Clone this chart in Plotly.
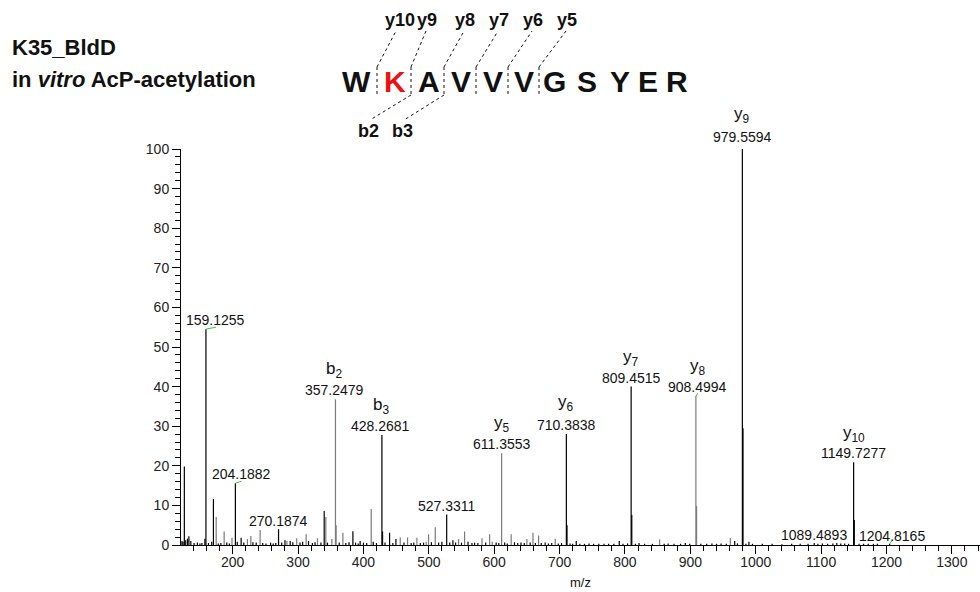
import plotly.graph_objects as go

# ---------------- data ----------------
# main (black) peaks: m/z and relative intensity (%)
black_mz = [126.10, 159.13, 170.60, 204.19, 270.19, 340.00, 383.90, 428.27, 429.27, 440.00,
            527.33, 710.38, 711.39, 809.45, 810.45, 979.56, 980.56, 1149.73, 1150.73,
            122.5, 124.0, 128.2, 131.0, 133.1, 136.0, 141.0, 146.0, 150.0, 153.0, 157.5,
            163.0, 168.0, 178.0, 182.0, 191.0, 195.0, 207.0, 213.0, 217.0, 231.0, 236.0,
            246.0, 251.0, 258.0, 262.0, 266.0, 275.0, 280.0, 288.0, 292.0, 303.0, 307.0,
            316.0, 322.0, 326.0, 335.0, 345.0, 363.0, 373.0, 378.0, 388.0, 392.0, 395.0,
            400.0, 405.0, 415.0, 420.0, 433.0, 445.0, 449.7, 462.0, 473.0, 477.0, 487.0,
            492.0, 504.0, 515.0, 520.0, 532.0, 536.9, 541.0, 550.0, 560.0, 566.0, 570.0,
            575.0, 587.0, 603.0, 607.0, 616.0, 620.0, 631.0, 636.0, 641.0, 646.0, 655.0,
            663.0, 672.0, 678.0, 683.0, 688.0, 698.0, 703.0, 716.0, 720.0, 725.5, 731.0,
            738.0, 745.0, 752.0, 760.0, 768.0, 775.0, 783.0, 791.3, 797.0, 804.0, 816.0,
            821.5, 830.0, 842.0, 860.0, 866.0, 875.0, 885.0, 892.3, 899.0, 916.0, 925.0,
            933.0, 940.0, 947.0, 955.0, 967.8, 972.0, 985.0, 989.6, 995.0, 1010.0, 1025.0,
            1040.0, 1055.0, 1068.0, 1080.0, 1089.49, 1095.0, 1102.0, 1110.0, 1118.0,
            1124.0, 1130.0, 1136.0, 1142.0, 1158.0, 1165.0, 1172.0, 1180.0, 1186.0, 1204.82]
black_int = [19.8, 54.5, 11.6, 15.6, 4.0, 8.6, 3.5, 27.8, 3.4, 3.1,
             7.7, 28.0, 5.0, 40.0, 7.6, 100.0, 29.5, 20.9, 6.3,
             1.0, 0.8, 1.2, 1.6, 2.2, 1.0, 0.5, 0.6, 0.4, 0.5, 1.6,
             0.5, 0.8, 0.4, 0.5, 0.6, 0.4, 0.8, 1.8, 0.6, 0.7, 0.6,
             0.5, 0.4, 0.6, 0.4, 0.5, 0.6, 1.2, 1.0, 0.7, 0.6, 0.8,
             1.0, 0.5, 0.7, 0.6, 0.6, 0.6, 0.5, 0.7, 0.6, 0.4, 1.0,
             0.6, 0.5, 0.8, 0.5, 0.6, 0.5, 1.5, 0.6, 0.5, 0.6, 0.5,
             0.6, 0.7, 0.6, 0.8, 0.6, 1.2, 0.6, 0.6, 0.8, 0.5, 0.6,
             0.5, 0.6, 0.6, 0.5, 0.6, 0.4, 0.7, 0.5, 0.6, 0.5, 0.6,
             0.5, 0.5, 0.6, 0.4, 0.5, 0.4, 0.5, 0.4, 0.3, 1.0, 0.3,
             0.3, 0.4, 0.3, 0.3, 0.3, 0.3, 0.3, 1.0, 0.3, 0.4, 0.3,
             0.5, 0.3, 0.3, 0.3, 0.4, 0.3, 0.3, 0.5, 0.3, 0.3, 0.3,
             0.4, 0.3, 0.4, 0.3, 1.0, 0.4, 0.3, 0.8, 0.3, 0.3, 0.3,
             0.2, 0.3, 0.3, 0.3, 0.5, 0.3, 0.4, 0.3, 0.4,
             0.5, 0.4, 0.4, 0.3, 0.3, 0.3, 0.3, 0.3, 0.3, 0.3]

# secondary (grey) peaks
grey_mz = [174.80, 187.00, 199.00, 222.60, 227.80, 242.00, 283.00, 298.00, 312.40, 329.70,
           342.50, 351.70, 357.25, 358.25, 368.60, 411.90, 456.30, 467.50, 481.80, 496.00,
           499.60, 509.90, 545.50, 554.70, 581.30, 593.00, 597.00, 611.36, 626.00, 650.00,
           659.30, 667.90, 693.40, 853.00, 908.50, 909.50, 961.20]
grey_int = [7.1, 3.4, 1.8, 1.5, 2.3, 3.8, 1.0, 1.7, 2.7, 1.7,
            7.1, 1.5, 36.8, 5.0, 3.1, 9.1, 1.9, 1.9, 1.8, 0.8,
            2.7, 4.5, 1.5, 3.4, 1.7, 2.7, 0.8, 23.2, 2.7, 1.5,
            3.1, 2.4, 1.6, 1.4, 37.6, 9.8, 1.7]

# labelled peaks
label_mz = [159.1255, 204.1882, 270.1874, 357.2479, 428.2681, 527.3311, 611.3553,
            710.3838, 809.4515, 908.4994, 979.5594, 1089.4893, 1149.7277, 1204.8165]
label_int = [54.5, 15.6, 4.0, 36.8, 27.8, 7.7, 23.2, 28.0, 40.0, 37.6, 100.0, 0.5, 20.9, 0.3]
label_ion = ["", "", "", "b<sub>2</sub>", "b<sub>3</sub>", "", "y<sub>5</sub>",
             "y<sub>6</sub>", "y<sub>7</sub>", "y<sub>8</sub>", "y<sub>9</sub>", "",
             "y<sub>10</sub>", ""]

x_tick_vals = [200, 300, 400, 500, 600, 700, 800, 900, 1000, 1100, 1200, 1300]
y_tick_vals = [0, 10, 20, 30, 40, 50, 60, 70, 80, 90, 100]

sequence = ["W", "K", "A", "V", "V", "V", "G", "S", "Y", "E", "R"]
modified_index = 1
y_ions = ["y10", "y9", "y8", "y7", "y6", "y5"]
b_ions = ["b2", "b3"]

# ---------------- styles / layout helpers ----------------
FONT = "Liberation Sans, Arial, sans-serif"
W, H = 980, 592
PLOT_L, PLOT_T, PLOT_B = 181, 149, 545

def px(x):
    return x / W

def py(y):
    return 1 - y / H

def stems(mz, inten):
    xs, ys = [], []
    for m, v in zip(mz, inten):
        xs += [m, m, None]
        ys += [0, v, None]
    return xs, ys

fig = go.Figure()
gx, gy = stems(grey_mz, grey_int)
fig.add_trace(go.Scatter(x=gx, y=gy, mode="lines", line=dict(color="#7a7a7a", width=1.2),
                         hoverinfo="skip", showlegend=False))
bx, by = stems(black_mz, black_int)
fig.add_trace(go.Scatter(x=bx, y=by, mode="lines", line=dict(color="black", width=1.2),
                         hoverinfo="skip", showlegend=False))

annotations = []
shapes = []
# label styling: (x shift px, number y shift px, ion y shift px, leader vector px or None)
num_style = {
    "159.1255": (10, -1, 16, (10, 2)), "204.1882": (6, -1, 16, (6, 2)),
    "270.1874": (0, -2, 16, None), "357.2479": (-1, -1, 15, None),
    "428.2681": (-1, -1, 15, None), "527.3311": (0, -1, 16, None),
    "611.3553": (0, -1, 15, None), "710.3838": (0, -1, 17, None),
    "809.4515": (0, -1, 15, None), "908.4994": (2, -1, 15, (2, 3)),
    "979.5594": (0, 2, 17, None), "1089.4893": (0, -2, 16, None),
    "1149.7277": (0, -1, 14, None), "1204.8165": (2, -2, 16, (3, 4)),
}
for m, v, ion in zip(label_mz, label_int, label_ion):
    txt = f"{m:.4f}"
    dx, dy, iy, lead = num_style[txt]
    annotations.append(dict(x=m, y=v, xref="x", yref="y", text=txt, showarrow=False,
                            xanchor="center", yanchor="bottom", xshift=dx, yshift=dy,
                            font=dict(family=FONT, size=14, color="#111")))
    if ion:
        annotations.append(dict(x=m, y=v, xref="x", yref="y", text=ion, showarrow=False,
                                xanchor="center", yanchor="bottom", xshift=dx,
                                yshift=dy + iy + 2,
                                font=dict(family=FONT, size=17, color="#111")))
    if lead:
        shapes.append(dict(type="line", xref="x", yref="y", xsizemode="pixel",
                           ysizemode="pixel", xanchor=m, yanchor=v, x0=0, y0=0,
                           x1=lead[0], y1=lead[1], line=dict(color="#33cc33", width=1)))

# ---- title text at top-left ----
annotations.append(dict(x=px(10), y=py(47), xref="paper", yref="paper", showarrow=False,
                        xanchor="left", yanchor="middle", text="<b>K35_BldD</b>",
                        font=dict(family=FONT, size=22, color="#111")))
annotations.append(dict(x=px(10), y=py(79), xref="paper", yref="paper", showarrow=False,
                        xanchor="left", yanchor="middle",
                        text="<b>in <i>vitro</i> AcP-acetylation</b>",
                        font=dict(family=FONT, size=22, color="#111")))

# ---- peptide fragmentation diagram ----
letter_x = [356, 395, 429, 461, 493, 524, 554, 587, 620, 648, 677]
for i, (ch, lx) in enumerate(zip(sequence, letter_x)):
    annotations.append(dict(x=px(lx), y=py(81), xref="paper", yref="paper", showarrow=False,
                            xanchor="center", yanchor="middle", text=f"<b>{ch}</b>",
                            font=dict(family=FONT, size=30,
                                      color="#ee1111" if i == modified_index else "#111")))
bounds = [377, 411, 444, 476, 508, 539]
dash = dict(color="#111", width=1, dash="3px,3px")
for bxp in bounds:
    shapes.append(dict(type="line", xref="paper", yref="paper", x0=px(bxp), x1=px(bxp),
                       y0=py(67), y1=py(95), line=dash))
y_label_x = [400, 427, 465, 499, 533, 567]
for bxp, lab, lx in zip(bounds, y_ions, y_label_x):
    shapes.append(dict(type="line", xref="paper", yref="paper", x0=px(bxp), y0=py(67),
                       x1=px(lx - 4 if lab == "y10" else lx - 1), y1=py(31), line=dash))
    annotations.append(dict(x=px(lx), y=py(20), xref="paper", yref="paper", showarrow=False,
                            xanchor="center", yanchor="middle", text=f"<b>{lab}</b>",
                            font=dict(family=FONT, size=18, color="#111")))
b_label_x = [368, 402]
for bxp, lab, lx in zip(bounds[1:3], b_ions, b_label_x):
    shapes.append(dict(type="line", xref="paper", yref="paper", x0=px(bxp), y0=py(95),
                       x1=px(lx + 2), y1=py(120), line=dash))
    annotations.append(dict(x=px(lx), y=py(131), xref="paper", yref="paper", showarrow=False,
                            xanchor="center", yanchor="middle", text=f"<b>{lab}</b>",
                            font=dict(family=FONT, size=18, color="#111")))

annotations.append(dict(x=px(580), y=py(582), xref="paper", yref="paper",
                        showarrow=False, xanchor="center", yanchor="middle", text="m/z",
                        font=dict(family=FONT, size=13, color="#111")))

fig.update_layout(
    width=W, height=H, autosize=False,
    margin=dict(l=0, r=0, t=0, b=0),
    paper_bgcolor="white", plot_bgcolor="white",
    font=dict(family=FONT, size=14, color="#222"),
    annotations=annotations, shapes=shapes,
    xaxis=dict(domain=[px(PLOT_L), 1.0], range=[121, 1343], showgrid=False, zeroline=False,
               showline=True, linecolor="black", linewidth=1, ticks="outside", ticklen=8,
               tickcolor="black", tickwidth=1, tickvals=x_tick_vals,
               ticktext=[str(v) for v in x_tick_vals], tickfont=dict(size=14, color="#222"),
               ticklabelstandoff=-4,
               minor=dict(dtick=20, tick0=0, ticks="outside", ticklen=5, tickcolor="black"),
               automargin=False, fixedrange=True),
    yaxis=dict(domain=[py(PLOT_B), py(PLOT_T)], range=[0, 100], showgrid=False, zeroline=False,
               showline=True, linecolor="black", linewidth=1, ticks="outside", ticklen=8,
               tickcolor="black", tickwidth=1, tickvals=y_tick_vals,
               ticktext=[str(v) for v in y_tick_vals], tickfont=dict(size=14, color="#222"),
               minor=dict(dtick=2, tick0=0, ticks="outside", ticklen=5, tickcolor="black"),
               automargin=False, fixedrange=True),
)

fig.write_html("out.html")
